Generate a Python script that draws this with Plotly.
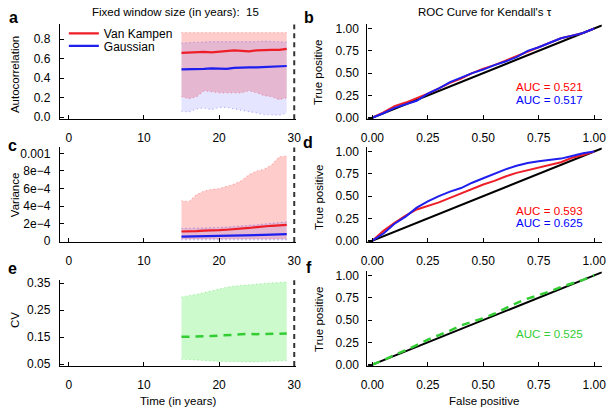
import plotly.graph_objects as go

# ---------------- data ----------------
years = [15, 16, 17, 18, 19, 20, 21, 22, 23, 24, 25, 26, 27, 28, 29]

# panel a: autocorrelation
ac_vk_mean = [0.66, 0.665, 0.67, 0.67, 0.665, 0.67, 0.68, 0.685, 0.68, 0.675, 0.685, 0.69, 0.69, 0.69, 0.70]
ac_vk_hi = [0.867, 0.867, 0.867, 0.867, 0.867, 0.867, 0.867, 0.867, 0.867, 0.867, 0.867, 0.867, 0.867, 0.867, 0.867]
ac_vk_lo = [0.21, 0.19, 0.21, 0.27, 0.26, 0.25, 0.25, 0.25, 0.25, 0.27, 0.25, 0.22, 0.21, 0.18, 0.20]
ac_g_mean = [0.49, 0.49, 0.495, 0.495, 0.50, 0.50, 0.495, 0.505, 0.51, 0.51, 0.51, 0.515, 0.515, 0.52, 0.525]
ac_g_hi = [0.76, 0.765, 0.77, 0.775, 0.775, 0.775, 0.775, 0.775, 0.77, 0.775, 0.775, 0.78, 0.775, 0.775, 0.77]
ac_g_lo = [0.06, 0.053, 0.087, 0.093, 0.077, 0.10, 0.10, 0.087, 0.067, 0.06, 0.043, 0.027, 0.02, 0.02, 0.043]

# panel c: variance
var_vk_mean = [1.10e-4, 1.10e-4, 1.15e-4, 1.20e-4, 1.20e-4, 1.25e-4, 1.30e-4, 1.35e-4, 1.40e-4, 1.50e-4, 1.60e-4, 1.70e-4, 1.75e-4, 1.80e-4, 1.85e-4]
var_vk_hi = [4.6e-4, 4.5e-4, 5.3e-4, 5.7e-4, 5.9e-4, 6.0e-4, 6.25e-4, 6.5e-4, 6.9e-4, 7.6e-4, 8.0e-4, 8.2e-4, 8.7e-4, 9.6e-4, 9.7e-4]
var_vk_lo = [0.25e-4, 0.25e-4, 0.25e-4, 0.25e-4, 0.25e-4, 0.25e-4, 0.25e-4, 0.25e-4, 0.25e-4, 0.25e-4, 0.25e-4, 0.25e-4, 0.25e-4, 0.25e-4, 0.25e-4]
var_g_mean = [0.52e-4, 0.53e-4, 0.55e-4, 0.56e-4, 0.57e-4, 0.58e-4, 0.60e-4, 0.62e-4, 0.63e-4, 0.65e-4, 0.68e-4, 0.71e-4, 0.74e-4, 0.77e-4, 0.80e-4]
var_g_hi = [1.44e-4, 1.45e-4, 1.47e-4, 1.50e-4, 1.53e-4, 1.56e-4, 1.60e-4, 1.65e-4, 1.70e-4, 1.78e-4, 1.86e-4, 1.95e-4, 2.03e-4, 2.12e-4, 2.20e-4]
var_g_lo = [0.15e-4, 0.15e-4, 0.15e-4, 0.15e-4, 0.15e-4, 0.15e-4, 0.15e-4, 0.15e-4, 0.15e-4, 0.15e-4, 0.15e-4, 0.15e-4, 0.15e-4, 0.15e-4, 0.15e-4]

# panel e: CV
cv_mean = [0.151, 0.151, 0.152, 0.153, 0.154, 0.156, 0.157, 0.158, 0.160, 0.162, 0.161, 0.161, 0.162, 0.163, 0.163]
cv_hi = [0.299, 0.303, 0.309, 0.315, 0.322, 0.329, 0.335, 0.339, 0.342, 0.345, 0.347, 0.349, 0.351, 0.353, 0.354]
cv_lo = [0.068, 0.067, 0.066, 0.064, 0.062, 0.060, 0.059, 0.058, 0.058, 0.058, 0.058, 0.059, 0.060, 0.062, 0.063]

window_end = 30

# ROC curves
fpr = [0, 0.05, 0.1, 0.15, 0.2, 0.25, 0.3, 0.35, 0.4, 0.45, 0.5,
       0.55, 0.6, 0.65, 0.7, 0.75, 0.8, 0.85, 0.9, 0.95, 1.0]
roc_ac_vk = [0, 0.06, 0.13, 0.17, 0.22, 0.27, 0.33, 0.39, 0.44, 0.50, 0.55,
             0.59, 0.64, 0.69, 0.74, 0.79, 0.84, 0.89, 0.92, 0.95, 1.0]
roc_ac_g = [0, 0.05, 0.11, 0.15, 0.19, 0.27, 0.33, 0.40, 0.45, 0.50, 0.54,
            0.59, 0.63, 0.68, 0.75, 0.79, 0.84, 0.89, 0.92, 0.95, 1.0]
roc_var_vk = [0, 0.11, 0.20, 0.28, 0.35, 0.39, 0.43, 0.48, 0.53, 0.58, 0.63,
              0.67, 0.72, 0.76, 0.79, 0.82, 0.85, 0.88, 0.93, 0.96, 1.0]
roc_var_g = [0, 0.08, 0.19, 0.27, 0.37, 0.44, 0.50, 0.55, 0.59, 0.65, 0.70,
             0.75, 0.80, 0.84, 0.87, 0.89, 0.905, 0.92, 0.95, 0.98, 1.0]
roc_cv = [0, 0.05, 0.11, 0.16, 0.22, 0.28, 0.33, 0.38, 0.44, 0.48, 0.52,
          0.57, 0.63, 0.69, 0.74, 0.78, 0.82, 0.87, 0.91, 0.95, 1.0]
diag = [-0.05, 1.1]

auc_ac = ["AUC = 0.521", "AUC = 0.517"]
auc_var = ["AUC = 0.593", "AUC = 0.625"]
auc_cv = ["AUC = 0.525"]

series_names = ["Van Kampen", "Gaussian"]

# ---------------- style ----------------
RED = "rgb(238,30,40)"
BLUE = "rgb(30,30,238)"
GREEN = "rgb(50,205,50)"
RED_FILL = "rgba(255,0,0,0.2)"
BLUE_FILL = "rgba(0,0,255,0.1)"
GREEN_FILL = "rgba(0,230,0,0.2)"
FONT = "Liberation Sans, Arial, sans-serif"

W, H = 610, 415


def px2x(p):
    return p / W


def px2y(p):
    return 1 - p / H


fig = go.Figure()


def band(xa, ya, x, lo, hi, fill, edge):
    fig.add_trace(go.Scatter(x=x, y=lo, xaxis=xa, yaxis=ya, mode="lines",
                             line=dict(color=edge, width=1.2, dash="1px,3px"),
                             showlegend=False, hoverinfo="skip"))
    fig.add_trace(go.Scatter(x=x, y=hi, xaxis=xa, yaxis=ya, mode="lines",
                             fill="tonexty", fillcolor=fill,
                             line=dict(color=edge, width=1.2, dash="1px,3px"),
                             showlegend=False, hoverinfo="skip"))


# panel a
band("x", "y", years, ac_vk_lo, ac_vk_hi, RED_FILL, "rgba(255,0,0,0.3)")
band("x", "y", years, ac_g_lo, ac_g_hi, BLUE_FILL, "rgba(0,0,255,0.3)")
fig.add_trace(go.Scatter(x=years, y=ac_vk_mean, xaxis="x", yaxis="y", mode="lines",
                         line=dict(color=RED, width=2.2), name=series_names[0],
                         legend="legend"))
fig.add_trace(go.Scatter(x=years, y=ac_g_mean, xaxis="x", yaxis="y", mode="lines",
                         line=dict(color=BLUE, width=2.2), name=series_names[1],
                         legend="legend2"))

# panel c
band("x3", "y3", years, var_vk_lo, var_vk_hi, RED_FILL, "rgba(255,0,0,0.3)")
band("x3", "y3", years, var_g_lo, var_g_hi, BLUE_FILL, "rgba(0,0,255,0.35)")
fig.add_trace(go.Scatter(x=years, y=var_vk_mean, xaxis="x3", yaxis="y3", mode="lines",
                         line=dict(color=RED, width=2.2), showlegend=False))
fig.add_trace(go.Scatter(x=years, y=var_g_mean, xaxis="x3", yaxis="y3", mode="lines",
                         line=dict(color=BLUE, width=2.2), showlegend=False))

# panel e
band("x5", "y5", years, cv_lo, cv_hi, GREEN_FILL, "rgba(0,200,0,0.3)")
fig.add_trace(go.Scatter(x=years, y=cv_mean, xaxis="x5", yaxis="y5", mode="lines",
                         line=dict(color=GREEN, width=2.5, dash="8px,6px"), showlegend=False))

# ROC panels
for xa, ya in [("x2", "y2"), ("x4", "y4"), ("x6", "y6")]:
    fig.add_trace(go.Scatter(x=diag, y=diag, xaxis=xa, yaxis=ya, mode="lines",
                             line=dict(color="black", width=2), showlegend=False))

fig.add_trace(go.Scatter(x=fpr, y=roc_ac_vk, xaxis="x2", yaxis="y2", mode="lines",
                         line=dict(color=RED, width=2), showlegend=False))
fig.add_trace(go.Scatter(x=fpr, y=roc_ac_g, xaxis="x2", yaxis="y2", mode="lines",
                         line=dict(color=BLUE, width=2), showlegend=False))
fig.add_trace(go.Scatter(x=fpr, y=roc_var_vk, xaxis="x4", yaxis="y4", mode="lines",
                         line=dict(color=RED, width=2), showlegend=False))
fig.add_trace(go.Scatter(x=fpr, y=roc_var_g, xaxis="x4", yaxis="y4", mode="lines",
                         line=dict(color=BLUE, width=2), showlegend=False))
fig.add_trace(go.Scatter(x=fpr, y=roc_cv, xaxis="x6", yaxis="y6", mode="lines",
                         line=dict(color=GREEN, width=2.5, dash="8px,6px"), showlegend=False))

# ---------------- axes ----------------
common = dict(showline=True, linecolor="black", linewidth=1.3, ticks="inside",
              ticklen=4, tickwidth=1.3, tickcolor="black", showgrid=False,
              zeroline=False, tickfont=dict(family=FONT, size=12, color="black"))

left_dom = [px2x(54), px2x(295)]
right_dom = [px2x(367.7), px2x(606.7)]
row1 = [px2y(118), px2y(21)]
row2 = [px2y(244), px2y(147)]
row3e = [px2y(371), px2y(283)]
row3f = [px2y(371), px2y(274)]

XSO = 7
YSO = 6
left_x = dict(common, range=[-1.17, 30.26], tickvals=[0, 10, 20, 30], ticklabelstandoff=XSO)
right_ticks = [0, 0.25, 0.5, 0.75, 1.0]
right_text = ["0.00", "0.25", "0.50", "0.75", "1.00"]
right_x = dict(common, range=[-0.022, 1.034], tickvals=right_ticks, ticktext=right_text,
               ticklabelstandoff=XSO)
right_y = dict(common, range=[-0.016, 1.045], tickvals=right_ticks, ticktext=right_text,
               ticklabelstandoff=YSO - 1)

leg_common = dict(xanchor="left", yanchor="middle", bgcolor="rgba(0,0,0,0)",
                  font=dict(family=FONT, size=12, color="black"), itemwidth=30)

layout = dict(
    width=W, height=H, margin=dict(l=0, r=0, t=0, b=0),
    paper_bgcolor="white", plot_bgcolor="white",
    font=dict(family=FONT, size=11, color="black"),
    xaxis=dict(left_x, domain=left_dom, anchor="y"),
    yaxis=dict(common, domain=row1, anchor="x", range=[-0.02, 0.95],
               tickvals=[0, 0.2, 0.4, 0.6, 0.8], ticktext=["0.0", "0.2", "0.4", "0.6", "0.8"],
               ticklabelstandoff=YSO),
    xaxis2=dict(right_x, domain=right_dom, anchor="y2"),
    yaxis2=dict(right_y, domain=row1, anchor="x2"),
    xaxis3=dict(left_x, domain=left_dom, anchor="y3"),
    yaxis3=dict(common, domain=row2, anchor="x3", range=[-1.11e-5, 1.0667e-3],
                tickvals=[0, 2e-4, 4e-4, 6e-4, 8e-4, 1e-3],
                ticktext=["0", "2e\u22124", "4e\u22124", "6e\u22124", "8e\u22124", "0.001"],
                ticklabelstandoff=YSO),
    xaxis4=dict(right_x, domain=right_dom, anchor="y4"),
    yaxis4=dict(right_y, domain=row2, anchor="x4"),
    xaxis5=dict(left_x, domain=left_dom, anchor="y5"),
    yaxis5=dict(common, domain=row3e, anchor="x5", range=[0.0428, 0.361],
                tickvals=[0.05, 0.15, 0.25, 0.35], ticktext=["0.05", "0.15", "0.25", "0.35"],
                ticklabelstandoff=YSO),
    xaxis6=dict(right_x, domain=right_dom, anchor="y6"),
    yaxis6=dict(right_y, domain=row3f, anchor="x6"),
    legend=dict(leg_common, x=px2x(58), y=px2y(30)),
    legend2=dict(leg_common, x=px2x(58), y=px2y(43)),
    showlegend=True,
)
fig.update_layout(**layout)

# dashed vertical line marking end of window range
for xa, ya in [("x", "y"), ("x3", "y3"), ("x5", "y5")]:
    fig.add_shape(type="line", xref=xa, yref=ya + " domain", x0=window_end, x1=window_end,
                  y0=0, y1=1, line=dict(color="#333333", width=2, dash="5px,4px"))

# ---------------- annotations ----------------
ann = []


def txt(x, y, s, size=11, color="black", bold=False, angle=0, xref="paper", yref="paper"):
    ann.append(dict(x=x, y=y, xref=xref, yref=yref, text=("<b>%s</b>" % s) if bold else s,
                    showarrow=False, textangle=angle, xanchor="center", yanchor="middle",
                    font=dict(family=FONT, size=size, color=color)))


TS = 11.5
txt(px2x(172), px2y(8), "Fixed window size (in years):  15", size=TS)
txt(px2x(488), px2y(8), "ROC Curve for Kendall's \u03c4", size=TS)
txt(px2x(174), px2y(407), "Time (in years)", size=TS)
txt(px2x(487), px2y(407), "False positive", size=TS)
txt(px2x(8), px2y(72), "Autocorrelation", size=TS, angle=-90)
txt(px2x(8), px2y(195), "Variance", size=TS, angle=-90)
txt(px2x(8), px2y(324), "CV", size=TS, angle=-90)
for yy in [70, 198, 323]:
    txt(px2x(318), px2y(yy), "True positive", size=TS, angle=-90)

for s, xx, yy in [("a", 7, 14), ("b", 308, 14), ("c", 6, 145), ("d", 307, 142),
                  ("e", 6, 271), ("f", 308, 270)]:
    txt(px2x(xx), px2y(yy), s, size=16, bold=True)

txt(0.797, 0.347, auc_ac[0], size=11.6, color="red", xref="x2", yref="y2")
txt(0.797, 0.200, auc_ac[1], size=11.6, color="blue", xref="x2", yref="y2")
txt(0.797, 0.338, auc_var[0], size=11.6, color="red", xref="x4", yref="y4")
txt(0.797, 0.200, auc_var[1], size=11.6, color="blue", xref="x4", yref="y4")
txt(0.797, 0.352, auc_cv[0], size=11.6, color=GREEN, xref="x6", yref="y6")

fig.update_layout(annotations=ann)

fig.write_html("out.html", config={"displayModeBar": False},
               post_script="document.body.style.margin='0';document.body.style.padding='0';")
